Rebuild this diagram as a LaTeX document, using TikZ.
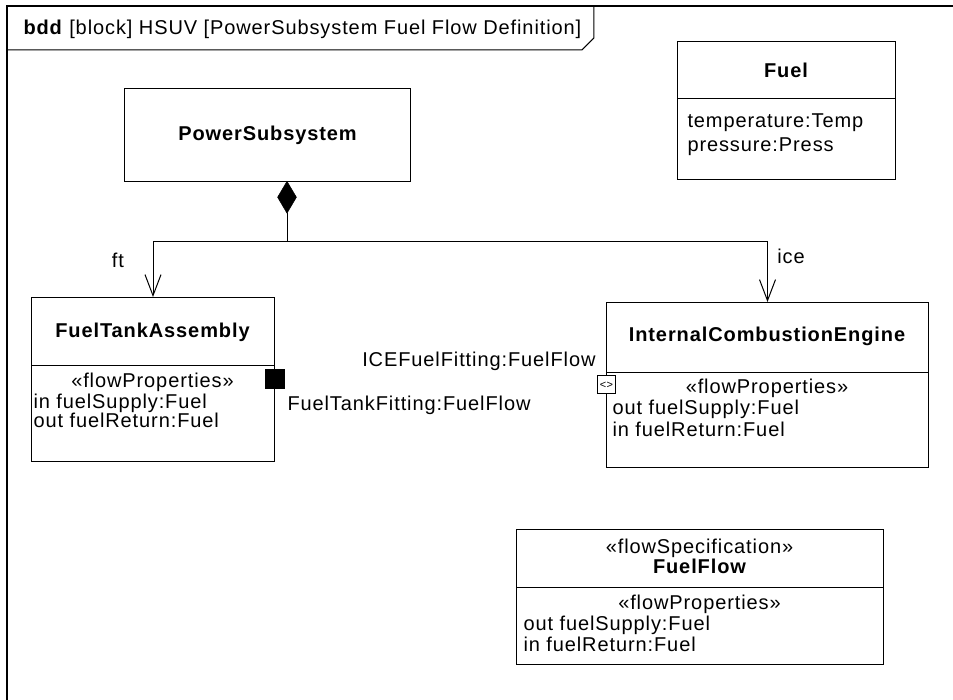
\documentclass[tikz,border=0pt]{standalone}
\usepackage{fontspec}
\setmainfont{Liberation Sans}[LetterSpace=4.5]
\usetikzlibrary{arrows.meta,shapes.geometric}
\newcommand\dfont{\fontsize{20}{24}\selectfont}
\begin{document}
\begin{tikzpicture}[x=1pt,y=-1pt,
  line width=1pt,
  every node/.style={font=\dfont},
  blk/.style={draw, rectangle, inner sep=0pt, anchor=north west, fill=white},
  nm/.style={inner sep=0pt, font=\dfont\bfseries},
  ct/.style={inner sep=0pt, anchor=base},
  lt/.style={inner sep=0pt, anchor=base west},
  rt/.style={inner sep=0pt, anchor=base east},
  comp/.style={-{Straight Barb[length=21pt,width=16pt]}},
]
\useasboundingbox (0,0) rectangle (953,700);
% frame
\draw[line width=1.3pt] (7,700) -- (7,6) -- (953,6);
\node[lt] (hdr) at (23,35) {\textbf{bdd} [block] HSUV [PowerSubsystem Fuel Flow Definition]};
\draw (7,50) -- (hdr.east |- 0,50) -- ++(12,-12) coordinate (tc) -- (tc |- 0,6);

% PowerSubsystem
\node[blk, minimum width=286pt, minimum height=93pt] (ps) at (124,88) {};
\node[nm] (psn) at (ps.center) {PowerSubsystem};

% Fuel
\node[blk, minimum width=218pt, minimum height=138pt] (fuel) at (677,41) {};
\draw (fuel.west |- 0,99) -- (fuel.east |- 0,99);
\node[nm] (fueln) at (786,70) {Fuel};
\node[lt] (fuela1) at (687,128) {temperature:Temp};
\node[lt] (fuela2) at (687,152) {pressure:Press};

% FuelTankAssembly
\node[blk, minimum width=243pt, minimum height=164pt] (fta) at (31,297) {};
\draw (fta.west |- 0,366) -- (fta.east |- 0,366);
\node[nm] (ftan) at (152.5,332) {FuelTankAssembly};
\node[ct] (ftas) at (152.5,388) {«flowProperties»};
\node[lt] (fta1) at (33,408) {in fuelSupply:Fuel};
\node[lt] (fta2) at (33,428) {out fuelReturn:Fuel};

% InternalCombustionEngine
\node[blk, minimum width=322pt, minimum height=165pt] (ice) at (606,302) {};
\draw (ice.west |- 0,373) -- (ice.east |- 0,373);
\node[nm] (icen) at (767,336) {InternalCombustionEngine};
\node[ct] (ices) at (767,394) {«flowProperties»};
\node[lt] (ice1) at (612,414) {out fuelSupply:Fuel};
\node[lt] (ice2) at (612,436) {in fuelReturn:Fuel};

% FuelFlow
\node[blk, minimum width=367pt, minimum height=135pt] (ff) at (516,529) {};
\draw (ff.west |- 0,587) -- (ff.east |- 0,587);
\node[ct] (ffs) at (699.5,553) {«flowSpecification»};
\node[nm, anchor=base] (ffn) at (699.5,573) {FuelFlow};
\node[ct] (ffs2) at (699.5,609) {«flowProperties»};
\node[lt] (ff1) at (523,630) {out fuelSupply:Fuel};
\node[lt] (ff2) at (523,651) {in fuelReturn:Fuel};

% ports
\node[draw, fill=black, minimum size=19pt, inner sep=0pt] (ftport) at (274.5,379) {};
\node[draw, fill=white, minimum size=18pt, inner sep=0pt, font=\fontsize{11}{11}\selectfont] (iceport) at (606.5,385) {<>};
\node[lt] (ftpl) at (287,410) {FuelTankFitting:FuelFlow};
\node[rt] (icepl) at (596,367) {ICEFuelFitting:FuelFlow};

% composition
\node[diamond, draw, fill=black, line width=0.5pt, inner sep=0pt, minimum width=19pt, minimum height=32pt, anchor=north] (dia) at (287,181) {};
\coordinate (junc) at (287,242);
\draw (dia.south) -- (junc);
\draw[comp] (junc) -| (fta.north);
\draw[comp] (junc) -| (ice.north);
\node[inner sep=0pt] (ftl) at (118,260) {ft};
\node[inner sep=0pt] (icel) at (791,256) {ice};
\end{tikzpicture}
\end{document}
